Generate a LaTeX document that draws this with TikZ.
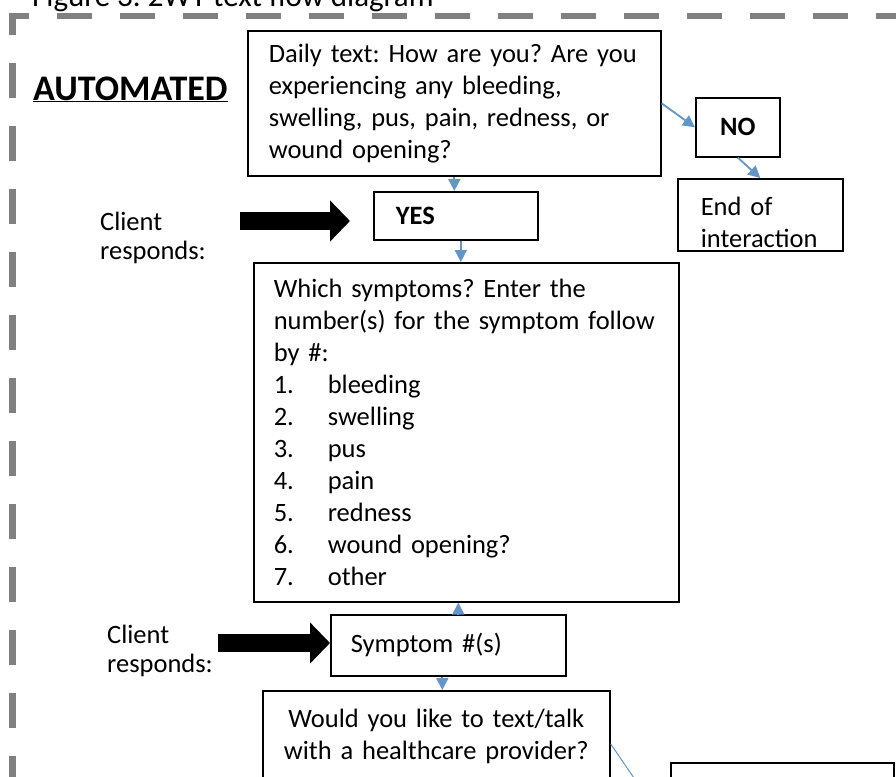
\documentclass[tikz,border=0pt]{standalone}
\usepackage{fontspec}
\setmainfont{Carlito}
\usepackage{tikz}
\usetikzlibrary{arrows.meta}
\usetikzlibrary{positioning}
\definecolor{flowblue}{RGB}{98,150,200}
\newcommand{\boxfont}{\fontsize{26.5}{32}\selectfont\spaceskip=0.15em\relax}
\frenchspacing
\hyphenpenalty=10000

\begin{document}
\begin{tikzpicture}
		[x=1pt,y=-1pt,
		every node/.style={font=\boxfont},
		box/.style={draw,line width=1.6pt,anchor=north west,inner ysep=0pt,align=left},
		flow/.style={draw=flowblue,line width=1.8pt,-{Triangle[length=12pt,width=12pt]}},
		bigarrow/.style={line width=18pt,-{Triangle[length=20pt,width=40pt]}},
		border/.style={draw=black!50,line width=6.5pt,dash pattern=on 35pt off 28pt}]
		\useasboundingbox (0,0) rectangle (896,776);
		
		\draw[border] (12.5,35) -- (12.5,16) -- (910,16);
		\draw[border,dash phase=35pt] (12.5,35) -- (12.5,800);
		
		\node[anchor=base west,inner sep=0pt,font=\fontsize{31}{36}\selectfont] (title) at (32,7) {Figure 3. 2WT text flow diagram};
		\node[anchor=base west,inner sep=0pt,font=\fontsize{36}{40}\selectfont\bfseries] (auto) at (33,100) {\underline{AUTOMATED}};
		
		\node[box,minimum height=145pt,inner xsep=21pt,text width=371pt] (daily) at (247,30)
		{Daily text: How are you? Are you\\experiencing any bleeding,\\swelling, pus, pain, redness, or\\wound opening?};
		\node[box,minimum width=84pt,minimum height=59pt,align=center,font=\boxfont\bfseries] (no) at (695,97) {NO};
		\node[box,minimum height=72pt,inner xsep=23pt,text width=119pt] (stop) at (677,178) {\rule{0pt}{34pt}End of\\interaction};
		\node[box,minimum height=48pt,inner xsep=22pt,text width=120pt,font=\boxfont\bfseries] (yes) at (373,191) {YES};
		\node[box,minimum height=339pt,inner xsep=20pt,text width=385pt] (which) at (253,262)
		{Which symptoms? Enter the\\number(s) for the symptom follow\\by \#:\\
		\makebox[54pt][l]{1.}bleeding\\\makebox[54pt][l]{2.}swelling\\\makebox[54pt][l]{3.}pus\\
		\makebox[54pt][l]{4.}pain\\\makebox[54pt][l]{5.}redness\\\makebox[54pt][l]{6.}wound opening?\\
		\makebox[54pt][l]{7.}other};
		\node[box,minimum height=61pt,inner xsep=20pt,text width=195pt] (symp) at (330,614) {Symptom \#(s)};
		\node[box,minimum height=92pt,inner xsep=8.5pt,text width=330pt,align=center] (would) at (262,690)
		{Would you like to text/talk\\with a healthcare provider?};
		\node[box,minimum width=223pt,minimum height=80pt] (nxt) at (670,762) {};
		
		\node[anchor=west,align=left,inner sep=0pt,font=\fontsize{26.5}{29}\selectfont] (cl1) at (100,238) {Client\\responds:};
		\node[anchor=west,align=left,inner sep=0pt,font=\fontsize{26.5}{29}\selectfont] (cl2) at (107,651) {Client\\responds:};
		
		\coordinate (c1) at (240,221);
		\coordinate (c2) at (218,643);
		\coordinate (off) at (649,800);
		\draw[bigarrow,shorten >=23pt] (c1) -- (c1 -| yes.west);
		\draw[bigarrow] (c2) -- (c2 -| symp.west);
		
		\foreach \from/\to in 
		{daily.east/no.west, no.south/stop.north}
		\draw[flow] (\from) -- (\to);
		\draw[flow] (daily.south) -- (daily.south |- yes.north);
		\draw[flow] ([xshift=5pt]yes.south) -- ([xshift=5pt]yes.south |- which.north);
		\draw[flow] ([xshift=10pt]symp.north) -- ([xshift=10pt]symp.north |- which.south);
		\draw[flow] ([xshift=-6pt]symp.south) -- ([xshift=-6pt]symp.south |- would.north);
		\draw[draw=flowblue,line width=1pt] ([yshift=-7pt]would.east) -- (off);
		\end{tikzpicture}
\end{document}
